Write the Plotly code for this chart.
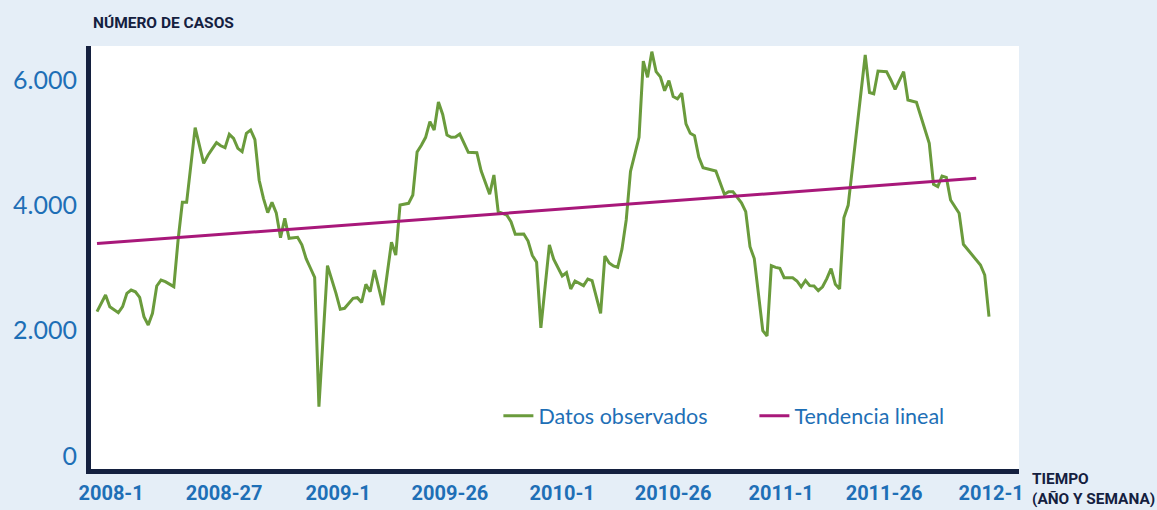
import plotly.graph_objects as go

# Week index (0 = 2008-1) and observed weekly case counts
semanas = [0, 2, 3, 5, 6, 7, 8, 9, 10, 11, 12, 13, 14, 15, 16, 17, 18, 19, 20, 21,
           23, 25, 26, 27, 28, 29, 30, 31, 32, 33, 34, 35, 36, 37, 38, 39, 40, 41, 42, 43,
           44, 45, 47, 48, 49, 50, 51, 52, 54, 56, 57, 58, 60, 61, 62, 63, 64, 65, 67, 69,
           70, 71, 73, 74, 75, 76, 77, 78, 79, 80, 81, 82, 83, 84, 85, 87, 89, 90, 92, 93,
           94, 96, 97, 98, 100, 101, 102, 103, 104, 106, 107, 109, 110, 111, 112, 114, 115, 116, 118, 119,
           120, 121, 122, 123, 124, 125, 127, 128, 129, 130, 131, 132, 133, 134, 135, 136, 137, 138, 139, 140,
           141, 142, 145, 147, 148, 149, 150, 151, 152, 153, 154, 155, 156, 157, 158, 159, 160, 161, 163, 164,
           165, 166, 167, 168, 169, 170, 171, 172, 173, 174, 175, 176, 180, 181, 182, 183, 185, 186, 187, 189,
           190, 192, 195, 196, 197, 198, 199, 200, 202, 203, 207, 208, 209]
casos = [2303, 2569, 2383, 2287, 2383, 2596, 2649, 2620, 2530, 2223, 2090, 2277, 2713, 2808, 2781, 2740, 2702, 3447, 4048, 4048,
         5239, 4670, 4800, 4900, 5000, 4950, 4920, 5133, 5069, 4910, 4856, 5149, 5202, 5050, 4400, 4112, 3883, 4048, 3880, 3484,
         3793, 3473, 3490, 3370, 3150, 3000, 2850, 787, 3037, 2596, 2341, 2357, 2516, 2526, 2450, 2740, 2620, 2968, 2409, 3410,
         3207, 4005, 4032, 4165, 4850, 4960, 5085, 5335, 5202, 5650, 5450, 5122, 5085, 5090, 5138, 4846, 4840, 4550, 4176, 4484,
         3899, 3846, 3739, 3538, 3543, 3431, 3200, 3091, 2045, 3367, 3139, 2872, 2925, 2665, 2793, 2718, 2824, 2798, 2277, 3191,
         3080, 3032, 3011, 3300, 3766, 4540, 5085, 6300, 6043, 6452, 6133, 6050, 5829, 5989, 5737, 5700, 5790, 5300, 5150, 5112,
         4770, 4600, 4548, 4176, 4218, 4218, 4130, 4040, 3900, 3340, 3150, 2600, 2000, 1915, 3037, 3010, 2995, 2845, 2845, 2793,
         2700, 2800, 2718, 2713, 2638, 2700, 2830, 2990, 2740, 2665, 3800, 4000, 6399, 5800, 5780, 6143, 6133, 6000, 5851, 6133,
         5681, 5644, 4990, 4335, 4298, 4468, 4447, 4085, 3873, 3378, 3048, 2888, 2223]

# Linear trend end points
tendencia_semanas = [0, 206]
tendencia_casos = [3390, 4431]

# Axis ticks
y_ticks = [0, 2000, 4000, 6000]
y_tick_labels = ["0", "2.000", "4.000", "6.000"]
x_tick_pos = [3.3, 29.8, 56.5, 82.7, 109.0, 135.0, 160.3, 184.4, 209.5]
x_tick_labels = ["2008-1", "2008-27", "2009-1", "2009-26", "2010-1",
                 "2010-26", "2011-1", "2011-26", "2012-1"]

NAVY = "#14203f"
BLUE = "#1e6fb6"
GREEN = "#6a9b3c"
MAGENTA = "#a8187a"
BG = "#e5eef7"
BOLD = "Roboto, sans-serif"

fig = go.Figure()
fig.add_trace(go.Scatter(x=semanas, y=casos, mode="lines", name="Datos observados",
                         line=dict(color=GREEN, width=3)))
fig.add_trace(go.Scatter(x=tendencia_semanas, y=tendencia_casos, mode="lines",
                         name="Tendencia lineal", line=dict(color=MAGENTA, width=3)))

fig.update_layout(
    width=1157, height=510,
    margin=dict(l=91, r=138, t=46, b=41, autoexpand=False),
    paper_bgcolor=BG, plot_bgcolor="white",
    showlegend=True,
    legend=dict(orientation="h", x=0.439, y=0.1257, xanchor="left", yanchor="middle",
                bgcolor="rgba(0,0,0,0)", font=dict(family="Lato, sans-serif", size=21.5, color=BLUE),
                entrywidth=211, entrywidthmode="pixels"),
    xaxis=dict(range=[-1.406, 216.03], showgrid=False, zeroline=False, automargin=False,
               showline=True, linewidth=5, linecolor=NAVY,
               tickmode="array", tickvals=x_tick_pos, ticktext=x_tick_labels,
               ticks="", ticklabelstandoff=2,
               tickfont=dict(family=BOLD, size=20, color=BLUE, weight="bold")),
    yaxis=dict(range=[-207.4, 6542.5], showgrid=False, zeroline=False, automargin=False,
               showline=True, linewidth=5, linecolor=NAVY,
               tickmode="array", tickvals=y_ticks, ticktext=y_tick_labels,
               ticks="", ticklabelstandoff=4,
               tickfont=dict(family="Lato, sans-serif", size=25, color=BLUE)),
    annotations=[
        dict(text="<b>NÚMERO DE CASOS</b>", xref="paper", yref="paper", x=0, y=1,
             xanchor="left", yanchor="bottom", yshift=12, showarrow=False,
             font=dict(family=BOLD, size=15.5, color=NAVY)),
        dict(text="<b>TIEMPO<br>(AÑO Y SEMANA)</b>", xref="paper", yref="paper", x=1, y=0,
             xanchor="left", yanchor="top", xshift=11, yshift=1, showarrow=False, align="left",
             font=dict(family=BOLD, size=15.4, color=NAVY)),
    ],
)

fig.write_html("out.html", config={"displayModeBar": False}, post_script=(
    "document.body.style.margin='0';"
    "document.body.style.background='" + BG + "';"
    "document.body.style.overflow='hidden';"))
